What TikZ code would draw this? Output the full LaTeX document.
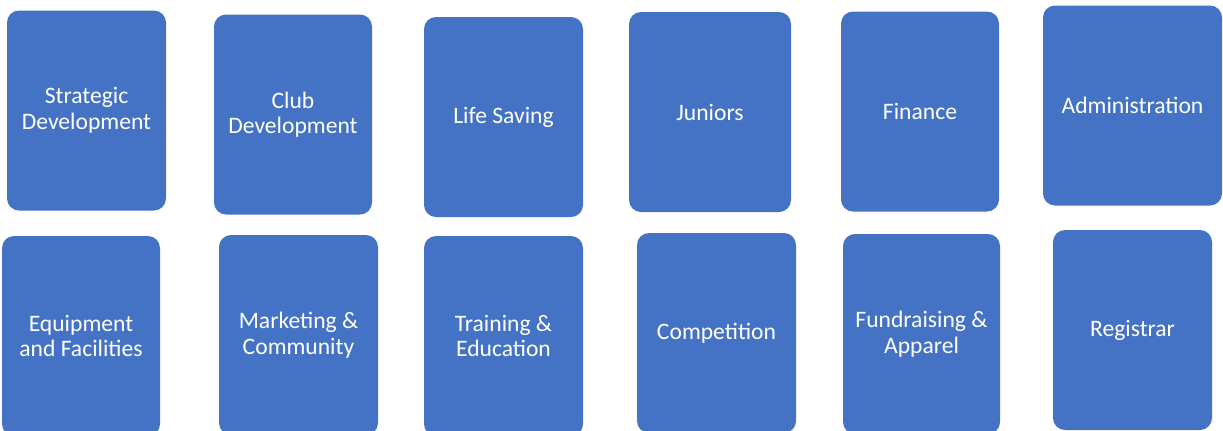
\documentclass[tikz,border=0pt]{standalone}
\usepackage{fontspec}
\setmainfont{Carlito}
\definecolor{officeblue}{HTML}{4472C4}

\begin{document}
\begin{tikzpicture}[x=0.5pt, y=-0.5pt,
  team/.style={align=center, fill=officeblue, text=white, rounded corners=6pt,
    inner sep=0pt, minimum width=79.5pt, minimum height=100pt,
    font=\fontsize{11.8}{12.75}\selectfont}]
  \clip (0,0) rectangle (1223,430);

  \node[team] (A) at (86.5,110.5) {Strategic\\ Development};
  \node[team, minimum width=79pt] (B) at (293,114.5) {Club\\ Development};
  \node[team] (C) at (503.5,117) {Life Saving};
  \node[team, minimum width=81pt] (D) at (710,112) {Juniors};
  \node[team, minimum width=79pt] (E) at (920,111.5) {Finance};
  \node[team, minimum width=89.5pt] (F) at (1132.5,105.5) {Administration};

  \node[team, minimum width=79pt] (G) at (81,336) {Equipment\\ and Facilities};
  \node[team] (H) at (298.5,335) {Marketing \&\\ Community};
  \node[team] (J) at (503.5,336) {Training \&\\ Education};
  \node[team] (K) at (716.5,333) {Competition};
  \node[team, minimum width=78.5pt] (L) at (921.5,334) {Fundraising \&\\ Apparel};
  \node[team] (M) at (1132.5,330) {Registrar};

\end{tikzpicture}
\end{document}
